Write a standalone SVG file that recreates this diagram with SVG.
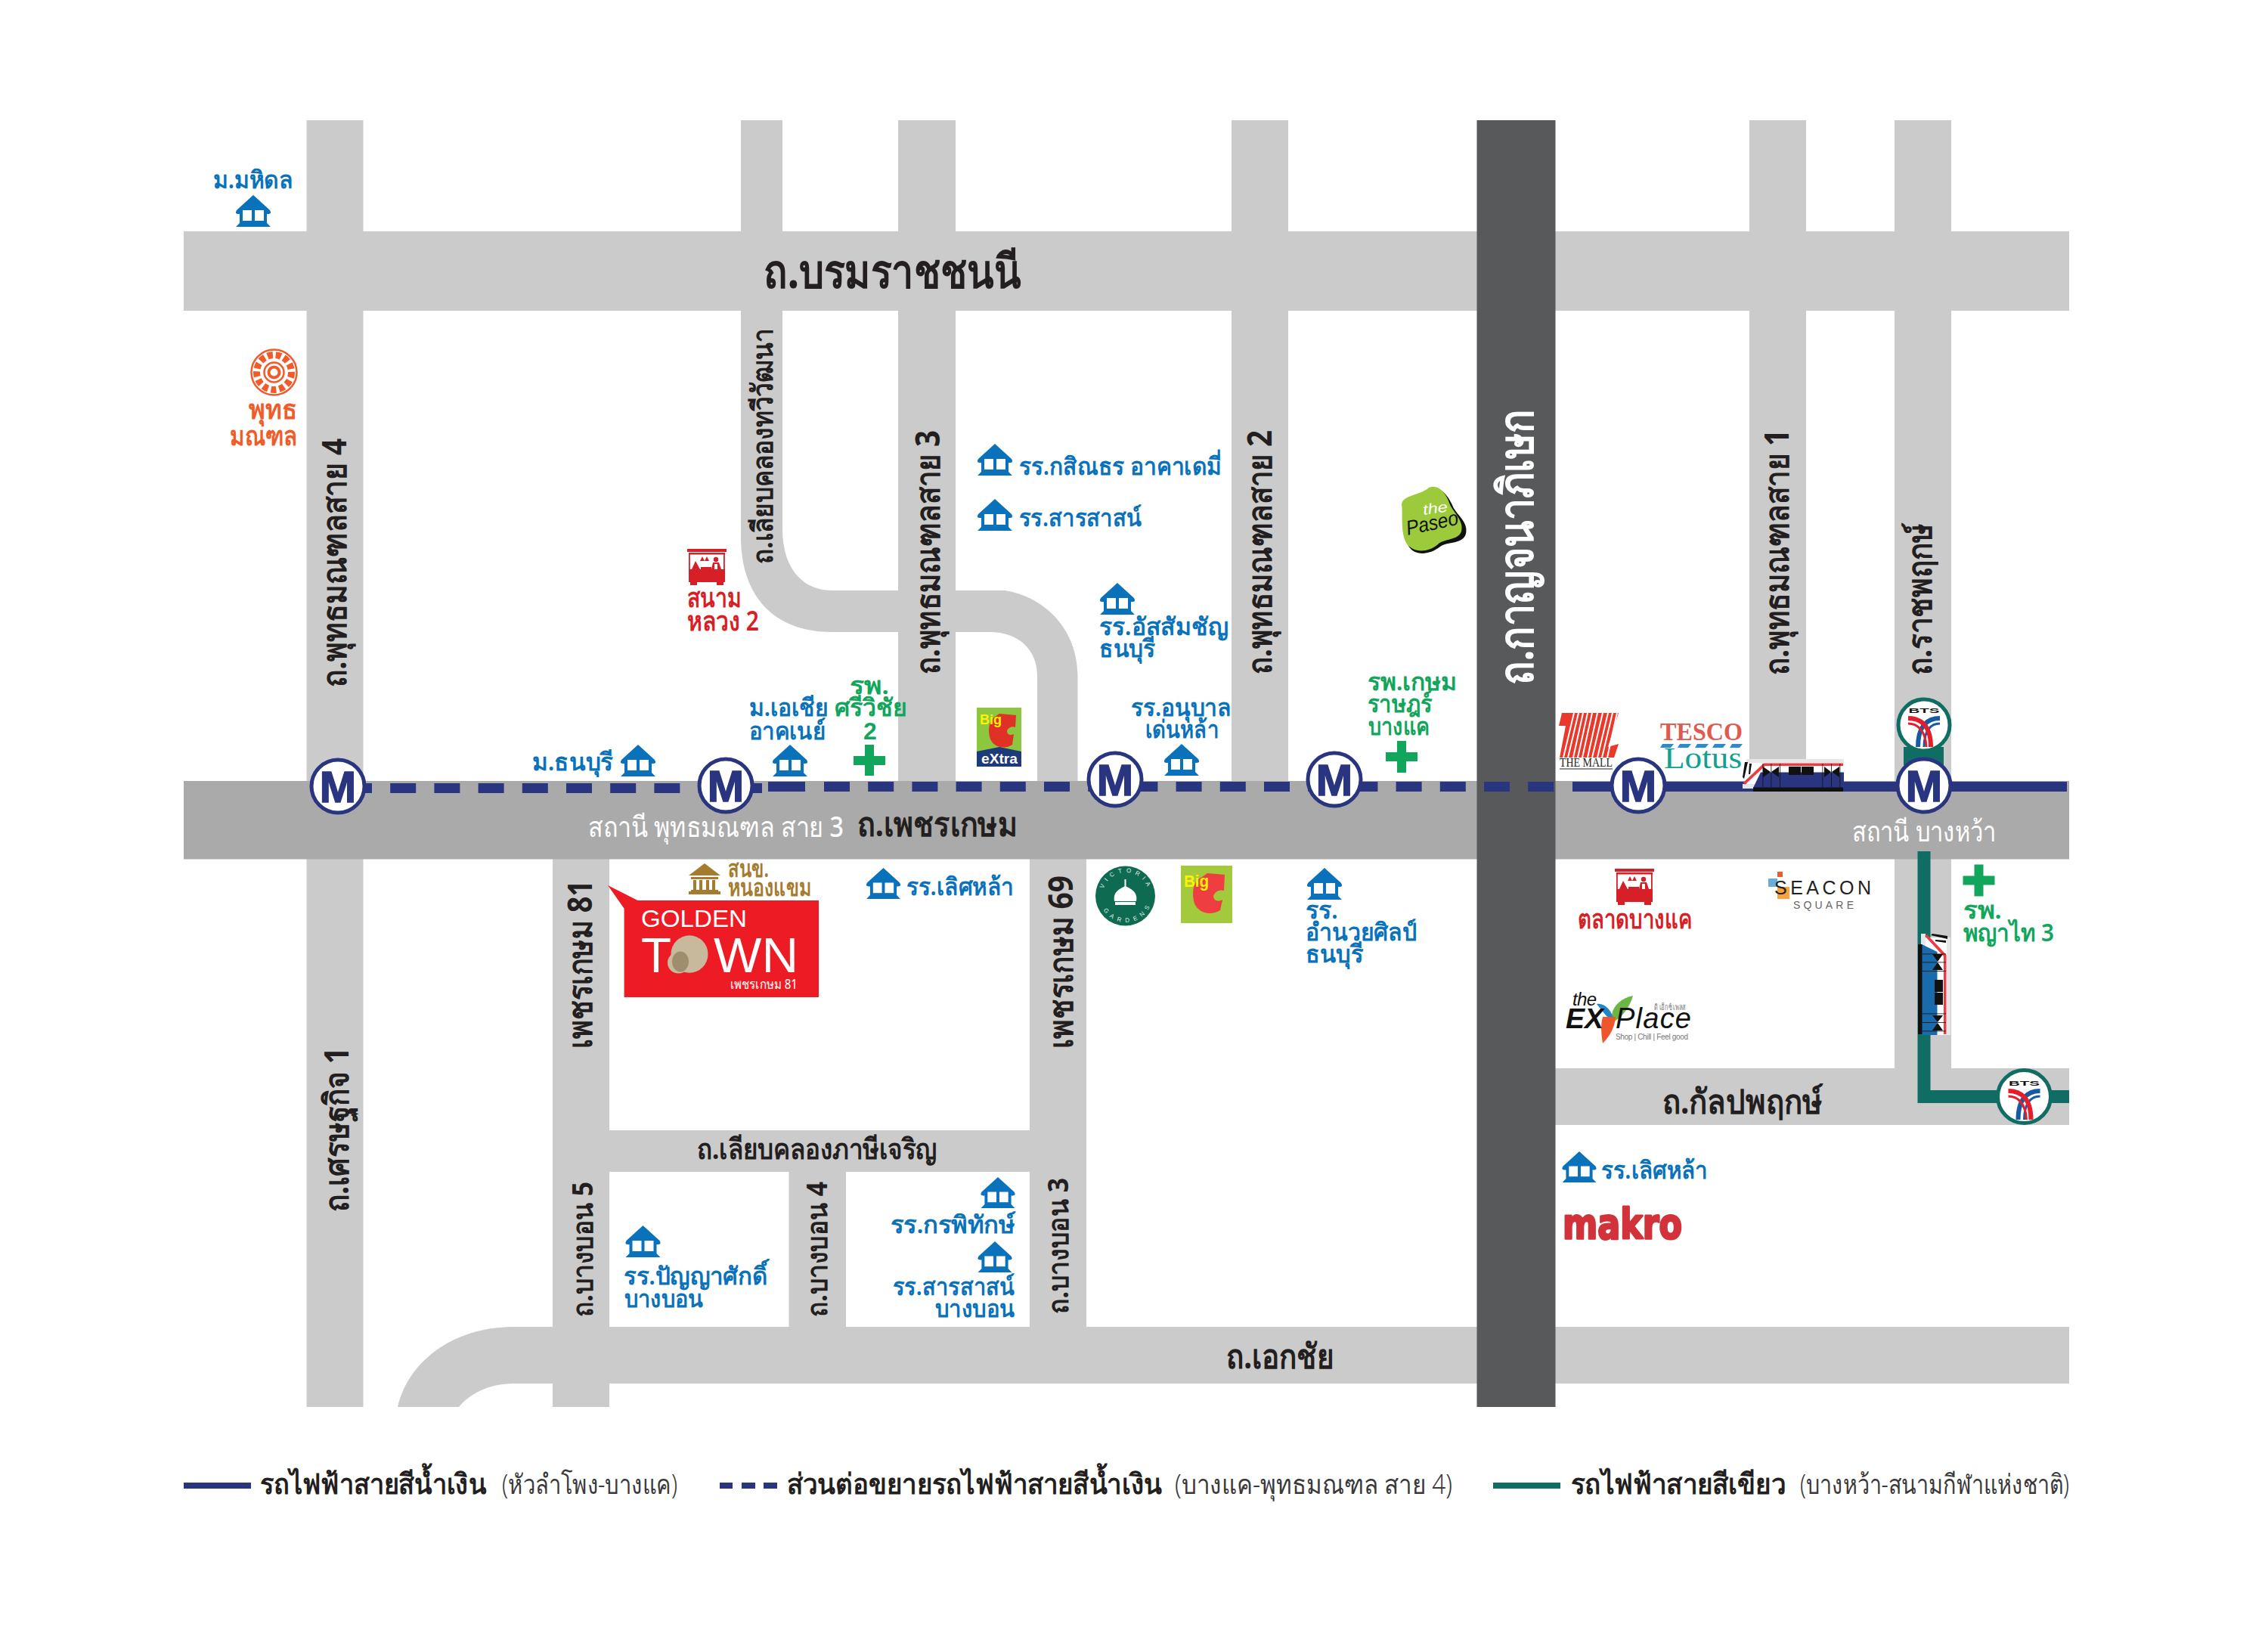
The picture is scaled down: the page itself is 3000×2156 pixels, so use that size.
<svg xmlns="http://www.w3.org/2000/svg" xmlns:xlink="http://www.w3.org/1999/xlink" width="3000" height="2156" viewBox="0 0 3000 2156">
<style>
text{font-family:"Noto Sans","DejaVu Sans","Liberation Sans",sans-serif}
.rd{fill:#cbcbcb}.rm{fill:#aaaaaa}.rk{fill:#58595b}
.bl{fill:#0a72bb}.gr{fill:#12a55c}.kk{fill:#231f20}.wh{fill:#fff}.re{fill:#d71f27}.or{fill:#f15a29}.br{fill:#a57c2f}
.l{font-size:32px;font-weight:600}.rt{font-size:45px;font-weight:700}.rs{font-size:38px;font-weight:700}
.lg{font-size:38px;font-weight:800;fill:#231f20}.lt{font-size:36px;font-weight:300;fill:#3a3a3c}
.m{font-family:"Liberation Sans",sans-serif;font-size:58px;font-weight:700;fill:#2a3580;stroke:#2a3580;stroke-width:1.500;text-anchor:middle}
.st{fill:#fff;stroke:#2a3580;stroke-width:5}.bt{fill:#fff;stroke:#0f6d64;stroke-width:5}
.bts{font-family:"Liberation Sans",sans-serif;font-size:9px;font-weight:700;fill:#111;text-anchor:middle}
.serif{font-family:"Liberation Serif",serif}.sans{font-family:"Liberation Sans",sans-serif}
</style>
<defs>
<symbol id="school" viewBox="0 0 48 42" overflow="visible">
<path fill="#0a72bb" d="M24 0L46 20Q49 25 44 25H42V37L47 42H1L6 37V25H4Q-1 25 2 20Z"/>
<rect x="10" y="20" width="12" height="14" fill="#fff"/><rect x="26" y="20" width="12" height="14" fill="#fff"/>
</symbol>
<symbol id="stall" viewBox="0 0 52 48" overflow="visible">
<g fill="#d71f27">
<rect x="0" y="0" width="52" height="4"/><rect x="2" y="5" width="48" height="2.500"/>
<rect x="2" y="7" width="1.800" height="20"/><rect x="48" y="7" width="1.800" height="20"/>
<rect x="2" y="27" width="48" height="17"/><rect x="4" y="44" width="9" height="4"/><rect x="39" y="44" width="9" height="4"/>
<path d="M6 27L11 16L17 27ZM17 16l3-6 3 6zM23 16l3-6 3 6z"/>
<path d="M18 27h14v-3H18z"/>
<circle cx="38" cy="14" r="3.200"/><path d="M32 27L34 18H42L45 27Z"/>
</g>
<path d="M36 27V20H40V27Z" fill="#fff"/>
</symbol>
<g id="btsmark">
<text class="bts" y="-16" textLength="41" lengthAdjust="spacingAndGlyphs">BTS</text>
<g fill="none" stroke-width="6">
<path stroke="#1659a5" d="M21 -9C5 -9 -8 0 -8 29"/><path stroke="#1659a5" d="M21 -2C10 -2 0 6 0 29" stroke-width="3"/>
<path stroke="#e21f2b" d="M-21 -9C-5 -9 9 0 9 29"/><path stroke="#e21f2b" d="M-21 -2C-10 -2 2 6 3 29" stroke-width="3"/>
</g>
</g>
<g id="train">
<rect x="5" y="0" width="129" height="5" fill="#e6e7e8"/>
<rect x="5" y="5" width="129" height="33" fill="#fff"/>
<rect x="0" y="33" width="24" height="6" fill="#e6e7e8"/>
<path d="M24 17.500H134V38H14Z" fill="currentColor"/>
<rect x="14" y="37.500" width="119" height="5.500" fill="#111"/>
<path d="M28 5.500H133V9H30L3 34L1 31Z" fill="#ee3a43"/>
<path d="M3 4L7 4L2 26L0 24Z" fill="#111"/><path d="M9 6L12 6L10 20L8 20Z" fill="#111"/>
<g fill="#111">
<path d="M27 10L37 17L27 24ZM48 10L38 17L48 24ZM108 10L117 17L108 24ZM128 10L118 17L128 24Z"/>
<rect x="61" y="10" width="16" height="11"/><rect x="78" y="10" width="16" height="11"/>
<rect x="26.500" y="6" width="0.800" height="31"/><rect x="37.500" y="6" width="0.800" height="31"/><rect x="49" y="6" width="0.800" height="31"/><rect x="105.500" y="6" width="0.800" height="31"/><rect x="117" y="6" width="0.800" height="31"/><rect x="128.500" y="6" width="0.800" height="31"/>
</g>
</g>
<path id="vicTop" d="M1458 1185A31 31 0 0 1 1520 1185"/>
<path id="vicBot" d="M1454 1185A35 35 0 0 0 1524 1185"/>
</defs>
<rect width="3000" height="2156" fill="#fff"/>

<g id="roads">
<rect class="rd" x="405.500" y="159" width="75" height="874"/>
<path class="rd" d="M980 159H1035V700C1035 750 1060 781 1101 781H1329C1385 790 1425.500 835 1425.500 894V1033H1372V894C1372 860 1348 836 1309 836H1100C1025 836 980 790 980 710Z"/>
<rect class="rd" x="1188" y="159" width="76" height="874"/>
<rect class="rd" x="1629" y="159" width="75" height="874"/>
<rect class="rd" x="2314" y="159" width="75" height="874"/>
<rect class="rd" x="2506" y="159" width="75" height="1254"/>
<rect class="rd" x="243" y="306" width="2494" height="105"/>
<rect class="rd" x="405.500" y="1136" width="75" height="725"/>
<rect class="rd" x="731" y="1136" width="75" height="725"/>
<rect class="rd" x="1362" y="1136" width="75" height="619"/>
<rect class="rd" x="806" y="1495" width="556" height="55"/>
<rect class="rd" x="1043.500" y="1550" width="75.500" height="205"/>
<path class="rd" d="M2737 1755H680C600 1755 540 1800 526 1861H607C620 1845 645 1830 680 1830H2737Z"/>
<rect class="rd" x="2057" y="1413" width="680" height="75"/>
<rect class="rm" x="243" y="1033" width="2494" height="103.500"/>
<rect class="rk" x="1953.500" y="159" width="104" height="1702"/>
</g>

<g id="connectors" fill="none">
<path stroke="#2a3580" stroke-width="13" stroke-dasharray="34 24.200" d="M458 1042.500H956"/>
<path stroke="#2a3580" stroke-width="13" d="M980 1042.500H1008M1016 1040.500H1065"/>
<path stroke="#2a3580" stroke-width="13" stroke-dasharray="34 24.200" d="M1090 1040.500H2056"/>
<path stroke="#2a3580" stroke-width="13" d="M2080 1040.500H2734"/>
<path stroke="#0f6d64" stroke-width="17" d="M2545 1126V1450.500H2737"/>
<rect x="2518" y="988" width="53" height="24" fill="#0f6d64"/>
<path stroke="#2a3580" stroke-width="8" d="M243 1965H332"/>
<path stroke="#2a3580" stroke-width="8" d="M952 1965H969M981 1965H999M1010 1965H1028"/>
<path stroke="#0f6d64" stroke-width="8" d="M1975 1965H2064"/>
</g>

<g id="road-labels">
<text class="kk" style="font-size:62px;font-weight:800" x="1010" y="381" textLength="340" lengthAdjust="spacingAndGlyphs">ถ.บรมราชชนนี</text>
<text class="kk rt" transform="translate(458,909) rotate(-90)" textLength="329" lengthAdjust="spacingAndGlyphs">ถ.พุทธมณฑลสาย 4</text>
<text class="kk rs" transform="translate(1022,746) rotate(-90)" textLength="311" lengthAdjust="spacingAndGlyphs">ถ.เลียบคลองทวีวัฒนา</text>
<text class="kk rt" transform="translate(1243,892) rotate(-90)" textLength="323" lengthAdjust="spacingAndGlyphs">ถ.พุทธมณฑลสาย 3</text>
<text class="kk rt" transform="translate(1682,892) rotate(-90)" textLength="323" lengthAdjust="spacingAndGlyphs">ถ.พุทธมณฑลสาย 2</text>
<text class="wh" style="font-size:64px;font-weight:700" transform="translate(2028,906) rotate(-90)" textLength="365" lengthAdjust="spacingAndGlyphs">ถ.กาญจนาภิเษก</text>
<text class="kk rt" transform="translate(2366,893) rotate(-90)" textLength="325" lengthAdjust="spacingAndGlyphs">ถ.พุทธมณฑลสาย 1</text>
<text class="kk rt" transform="translate(2555,893) rotate(-90)" textLength="201" lengthAdjust="spacingAndGlyphs">ถ.ราชพฤกษ์</text>
<text class="kk rt" transform="translate(783,1387) rotate(-90)" textLength="223" lengthAdjust="spacingAndGlyphs">เพชรเกษม 81</text>
<text class="kk rt" transform="translate(1419,1387) rotate(-90)" textLength="229" lengthAdjust="spacingAndGlyphs">เพชรเกษม 69</text>
<text class="kk rt" transform="translate(461,1603) rotate(-90)" textLength="218" lengthAdjust="spacingAndGlyphs">ถ.เศรษฐกิจ 1</text>
<text class="kk rs" transform="translate(784,1742) rotate(-90)" textLength="179" lengthAdjust="spacingAndGlyphs">ถ.บางบอน 5</text>
<text class="kk rs" transform="translate(1094,1742) rotate(-90)" textLength="179" lengthAdjust="spacingAndGlyphs">ถ.บางบอน 4</text>
<text class="kk rs" transform="translate(1413,1738) rotate(-90)" textLength="180" lengthAdjust="spacingAndGlyphs">ถ.บางบอน 3</text>
<text class="kk rs" x="922" y="1533" textLength="317" lengthAdjust="spacingAndGlyphs">ถ.เลียบคลองภาษีเจริญ</text>
<text class="kk rt" x="1622" y="1810" textLength="142" lengthAdjust="spacingAndGlyphs">ถ.เอกชัย</text>
<text class="kk rt" x="2199" y="1473" textLength="212" lengthAdjust="spacingAndGlyphs">ถ.กัลปพฤกษ์</text>
<text class="kk rt" x="1134" y="1106" textLength="212" lengthAdjust="spacingAndGlyphs">ถ.เพชรเกษม</text>
<text class="wh" style="font-size:38px;font-weight:500" x="778" y="1107" textLength="338" lengthAdjust="spacingAndGlyphs">สถานี พุทธมณฑล สาย 3</text>
<text class="wh" style="font-size:38px;font-weight:500" x="2450" y="1113" textLength="190" lengthAdjust="spacingAndGlyphs">สถานี บางหว้า</text>
</g>

<g id="station-1"><circle class="st" cx="447" cy="1040" r="35"/><text class="m" x="447" y="1061">M</text></g>
<g id="station-2"><circle class="st" cx="960" cy="1039" r="35"/><text class="m" x="960" y="1060">M</text></g>
<g id="station-3"><circle class="st" cx="1475" cy="1031" r="35"/><text class="m" x="1475" y="1052">M</text></g>
<g id="station-4"><circle class="st" cx="1765" cy="1031" r="35"/><text class="m" x="1765" y="1052">M</text></g>
<g id="station-5"><circle class="st" cx="2167" cy="1039" r="35"/><text class="m" x="2167" y="1060">M</text></g>
<g id="station-6"><circle class="bt" cx="2545" cy="959" r="34"/><use href="#btsmark" x="2545" y="959"/></g>
<g id="station-7"><circle class="st" cx="2545" cy="1039" r="35"/><text class="m" x="2545" y="1060">M</text></g>
<g id="station-8"><circle class="bt" cx="2677.500" cy="1450.500" r="35"/><use href="#btsmark" x="2677.500" y="1452"/></g>
<g id="train-h" style="color:#2a3580"><use href="#train" transform="translate(2305,1004)"/></g>
<g id="train-v" style="color:#1a6bab"><use href="#train" transform="translate(2580,1235) rotate(90)"/></g>

<g id="mahidol"><text class="bl l" x="282" y="249" textLength="106" lengthAdjust="spacingAndGlyphs">ม.มหิดล</text><use href="#school" x="311" y="258" width="48" height="42"/></g>
<g id="buddhamonthon">
<circle cx="362.500" cy="492.500" r="30" fill="#fff" stroke="#f15a29" stroke-width="2.500"/>
<circle cx="362.500" cy="492.500" r="23" fill="none" stroke="#f15a29" stroke-width="9" stroke-dasharray="7 4"/>
<circle cx="362.500" cy="492.500" r="13" fill="none" stroke="#f15a29" stroke-width="2.500"/>
<circle cx="362.500" cy="492.500" r="7" fill="none" stroke="#f15a29" stroke-width="4"/>
<text class="or l" style="font-size:36px" x="329" y="554" textLength="64" lengthAdjust="spacingAndGlyphs">พุทธ</text>
<text class="or l" style="font-size:36px" x="304" y="589" textLength="89" lengthAdjust="spacingAndGlyphs">มณฑล</text></g>
<g id="sanam-luang"><use href="#stall" x="909" y="726" width="52" height="48"/>
<text class="re l" style="font-size:36px" x="909" y="803" textLength="72" lengthAdjust="spacingAndGlyphs">สนาม</text>
<text class="re l" style="font-size:36px" x="909" y="834" textLength="95" lengthAdjust="spacingAndGlyphs">หลวง 2</text></g>
<g id="thonburi"><text class="bl l" x="704" y="1019" textLength="107" lengthAdjust="spacingAndGlyphs">ม.ธนบุรี</text><use href="#school" x="820" y="985" width="48" height="42"/></g>
<g id="asia-u"><text class="bl l" x="991" y="947" textLength="105" lengthAdjust="spacingAndGlyphs">ม.เอเชีย</text><text class="bl l" x="991" y="978" textLength="101" lengthAdjust="spacingAndGlyphs">อาคเนย์</text><use href="#school" x="1021" y="985" width="48" height="42"/></g>
<g id="sriwichai"><text class="gr l" x="1124" y="918" textLength="52" lengthAdjust="spacingAndGlyphs">รพ.</text><text class="gr l" x="1104" y="947" textLength="96" lengthAdjust="spacingAndGlyphs">ศรีวิชัย</text><text class="gr l sans" x="1142" y="978">2</text>
<path class="gr" d="M1144 985h12v15h15v12h-15v14h-12v-14h-15v-12h15z"/></g>
<g id="kasin"><use href="#school" x="1292" y="587" width="48" height="42"/><text class="bl l" x="1348" y="628" textLength="268" lengthAdjust="spacingAndGlyphs">รร.กสิณธร อาคาเดมี่</text></g>
<g id="sarasas"><use href="#school" x="1292" y="660" width="48" height="42"/><text class="bl l" x="1348" y="696" textLength="162" lengthAdjust="spacingAndGlyphs">รร.สารสาสน์</text></g>
<g id="assumption"><use href="#school" x="1454" y="771" width="48" height="42"/><text class="bl l" x="1454" y="840" textLength="171" lengthAdjust="spacingAndGlyphs">รร.อัสสัมชัญ</text><text class="bl l" x="1454" y="869" textLength="74" lengthAdjust="spacingAndGlyphs">ธนบุรี</text></g>
<g id="anuban"><text class="bl l" x="1496" y="947" textLength="133" lengthAdjust="spacingAndGlyphs">รร.อนุบาล</text><text class="bl l" x="1515" y="976" textLength="97" lengthAdjust="spacingAndGlyphs">เด่นหล้า</text><use href="#school" x="1539" y="984" width="48" height="42"/></g>
<g id="kasemrad"><text class="gr l" x="1809" y="913" textLength="118" lengthAdjust="spacingAndGlyphs">รพ.เกษม</text><text class="gr l" x="1809" y="942" textLength="85" lengthAdjust="spacingAndGlyphs">ราษฎร์</text><text class="gr l" x="1810" y="972" textLength="81" lengthAdjust="spacingAndGlyphs">บางแค</text>
<path class="gr" d="M1848 980h12v15h15v12h-15v15h-12v-15h-15v-12h15z"/></g>
<g id="bigc-extra"><rect x="1292" y="936" width="59" height="78" fill="#8dc63f"/><path d="M1292 994L1322 988L1351 994V1014H1292Z" fill="#1f3a78"/>
<path d="M1322 944L1344 946L1343 962C1338 960 1333 963 1332 967C1332 972 1337 973 1341 971L1339 985C1328 992 1315 988 1310 978C1306 966 1308 953 1316 948Z" fill="#e03127"/>
<text class="sans" x="1296" y="958" style="font-size:18px;font-weight:700;fill:#fff200" textLength="29" lengthAdjust="spacingAndGlyphs">Big</text>
<text class="sans" x="1298" y="1010" style="font-size:19px;font-weight:700;fill:#fff" textLength="48" lengthAdjust="spacingAndGlyphs">eXtra</text></g>
<g id="paseo"><path d="M1892 648C1905 642 1915 655 1921 668C1925 680 1943 690 1939 706C1935 720 1915 716 1905 723C1890 735 1870 735 1863 722C1855 705 1858 680 1856 667C1858 655 1880 658 1892 648Z" fill="#111"/>
<path d="M1890 645C1903 640 1912 652 1917 665C1921 677 1937 688 1933 703C1929 715 1910 712 1902 720C1888 732 1868 731 1860 718C1852 702 1856 680 1854 667C1856 654 1878 656 1890 645Z" fill="#9cca3c"/>
<text class="sans" x="1883" y="681" style="font-size:19px;font-style:italic;fill:#fff" textLength="33" lengthAdjust="spacingAndGlyphs" transform="rotate(-8 1883 681)">the</text>
<text class="sans" x="1862" y="708" style="font-size:27px;font-style:italic;fill:#111" textLength="70" lengthAdjust="spacingAndGlyphs" transform="rotate(-12 1862 708)">Paseo</text></g>
<g id="mall"><path d="M2066 943H2141L2127 988L2141 984L2135 1002H2063L2071 960H2062Z" fill="#e8392b"/>
<path d="M2068 1002L2082 943M2074 1002L2088 943M2081 1002L2094 943M2087 1002L2100 943M2093 1002L2106 943M2100 1002L2113 943M2106 1002L2120 943M2113 1002L2127 943M2119 1002L2133 943M2126 1002L2139 943" stroke="#fff" stroke-width="2" fill="none"/>
<text class="serif" x="2063" y="1014" style="font-size:17px;fill:#222" textLength="70" lengthAdjust="spacingAndGlyphs">THE MALL</text><path d="M2063 1017H2133" stroke="#222" stroke-width="1"/></g>
<g id="tesco"><text class="serif" x="2196" y="979" style="font-size:33px;font-weight:700;fill:#e05a4f" textLength="109" lengthAdjust="spacingAndGlyphs">TESCO</text>
<path d="M2199 984H2214L2210 989H2196ZM2222 984H2237L2233 989H2219ZM2245 984H2260L2256 989H2242ZM2268 984H2283L2279 989H2265ZM2291 984H2305L2301 989H2288Z" fill="#2a8ccc"/>
<text class="serif" x="2201" y="1016" style="font-size:40px;fill:#12a08f" textLength="103" lengthAdjust="spacingAndGlyphs">Lotus</text></g>
<g id="victoria"><circle cx="1488.500" cy="1185" r="39.500" fill="#0e6b51"/>
<path d="M1474 1192C1472 1180 1480 1176 1488.500 1172C1497 1176 1505 1180 1503 1192Z" fill="#fff"/><rect x="1475" y="1193" width="27" height="4" fill="#fff"/><rect x="1487.500" y="1163" width="2" height="10" fill="#fff"/>
<text class="sans" style="font-size:8px;fill:#dfeee9"><textPath href="#vicTop" startOffset="10%" textLength="75">V I C T O R I A</textPath></text>
<text class="sans" style="font-size:8px;fill:#dfeee9"><textPath href="#vicBot" startOffset="18%" textLength="75">G A R D E N S</textPath></text></g>
<g id="bigc"><rect x="1562" y="1145" width="68" height="76" fill="#a3c93c"/>
<path d="M1597 1155L1620 1157L1619 1178C1612 1176 1606 1180 1605 1186C1606 1192 1612 1193 1617 1190L1614 1204C1600 1212 1585 1207 1580 1195C1576 1180 1578 1165 1590 1160Z" fill="#ee3e42"/>
<text class="sans" x="1566" y="1173" style="font-size:22px;font-weight:700;fill:#fff200" textLength="33" lengthAdjust="spacingAndGlyphs">Big</text></g>
<g id="amnuay"><use href="#school" x="1728" y="1148" width="48" height="42"/><text class="bl l" x="1727" y="1215" textLength="43" lengthAdjust="spacingAndGlyphs">รร.</text><text class="bl l" x="1727" y="1244" textLength="147" lengthAdjust="spacingAndGlyphs">อำนวยศิลป์</text><text class="bl l" x="1727" y="1273" textLength="76" lengthAdjust="spacingAndGlyphs">ธนบุรี</text></g>
<g id="talad"><use href="#stall" x="2136" y="1149" width="52" height="48"/><text class="re l" style="font-size:35px" x="2087" y="1228" textLength="151" lengthAdjust="spacingAndGlyphs">ตลาดบางแค</text></g>
<g id="seacon"><rect x="2339" y="1162" width="12" height="11" fill="#6aaed6"/><rect x="2351" y="1153" width="7" height="7" fill="#f15a29"/><rect x="2351" y="1173" width="16" height="16" fill="#f9a13a"/>
<text class="sans" x="2347" y="1183" style="font-size:25px;fill:#222" textLength="128" lengthAdjust="spacing">SEACON</text>
<text class="sans" x="2372" y="1202" style="font-size:14px;fill:#666" textLength="80" lengthAdjust="spacing">SQUARE</text></g>
<g id="phyathai"><path class="gr" d="M2611.500 1143.500h12v15h15v12h-15v15h-12v-15h-15v-12h15z"/><text class="gr l" x="2597" y="1215" textLength="51" lengthAdjust="spacingAndGlyphs">รพ.</text><text class="gr l" x="2597" y="1245" textLength="120" lengthAdjust="spacingAndGlyphs">พญาไท 3</text></g>
<g id="explace">
<path d="M2132 1342C2134 1330 2145 1320 2160 1317C2156 1332 2146 1345 2134 1352Z" fill="#6cb644"/>
<path d="M2112 1328C2122 1326 2132 1336 2135 1350L2125 1344Z" fill="#1f87c7"/>
<path d="M2120 1345L2137 1345C2136 1360 2128 1372 2120 1380C2118 1368 2117 1355 2120 1345Z" fill="#f0562b"/>
<text class="sans" x="2080" y="1330" style="font-size:24px;font-style:italic;fill:#111" textLength="32" lengthAdjust="spacing">the</text>
<text class="sans" x="2071" y="1360" style="font-size:36px;font-style:italic;font-weight:700;fill:#111" textLength="50" lengthAdjust="spacingAndGlyphs">EX</text>
<text class="sans" x="2137" y="1360" style="font-size:38px;font-style:italic;fill:#111" textLength="100" lengthAdjust="spacing">Place</text>
<text x="2188" y="1336" style="font-size:11px;fill:#777" textLength="42" lengthAdjust="spacingAndGlyphs">ดิ เอ็กซ์ เพลส</text>
<text class="sans" x="2137" y="1375" style="font-size:10px;fill:#777" textLength="96" lengthAdjust="spacing">Shop | Chill | Feel good</text></g>
<g id="lertlah-2"><use href="#school" x="2065" y="1523" width="48" height="41"/><text class="bl l" x="2118" y="1559" textLength="141" lengthAdjust="spacingAndGlyphs">รร.เลิศหล้า</text></g>
<g id="makro"><text x="2067" y="1638" style="font-family:'DejaVu Sans',sans-serif;font-size:56px;font-weight:700;fill:#d2333a;stroke:#d2333a;stroke-width:3;stroke-linejoin:round" textLength="158" lengthAdjust="spacingAndGlyphs">makro</text></g>
<g id="onep"><g class="br"><path d="M932 1142L953 1158H911Z"/><rect x="914" y="1160" width="36" height="3"/><rect x="917" y="1164" width="4" height="13"/><rect x="925" y="1164" width="4" height="13"/><rect x="934" y="1164" width="4" height="13"/><rect x="942" y="1164" width="4" height="13"/><rect x="914" y="1177" width="36" height="2"/><rect x="911" y="1179" width="42" height="4"/></g>
<text class="br l" x="963" y="1160" textLength="54" lengthAdjust="spacingAndGlyphs">สนข.</text><text class="br l" x="963" y="1185" textLength="110" lengthAdjust="spacingAndGlyphs">หนองแขม</text></g>
<g id="lertlah-1"><use href="#school" x="1144.500" y="1148" width="48" height="41"/><text class="bl l" x="1199" y="1184" textLength="142" lengthAdjust="spacingAndGlyphs">รร.เลิศหล้า</text></g>
<g id="golden-town"><path d="M804 1171L843.500 1191H1083V1319H825.600V1201.700Z" fill="#ed1c24"/>
<text class="sans wh" x="848" y="1226" style="font-size:32px" textLength="140" lengthAdjust="spacingAndGlyphs">GOLDEN</text>
<ellipse cx="912" cy="1262" rx="24.500" ry="24.700" fill="#c8b99c"/><ellipse cx="897.500" cy="1273.500" rx="14.500" ry="14" fill="#c8b99c"/><ellipse cx="900" cy="1272" rx="11" ry="13.500" fill="#9f8e6e"/>
<text class="sans wh" x="848" y="1286" style="font-size:65px" textLength="40" lengthAdjust="spacingAndGlyphs">T</text>
<text class="sans wh" x="944" y="1286" style="font-size:65px" textLength="112" lengthAdjust="spacingAndGlyphs">WN</text>
<text class="wh" x="966" y="1308" style="font-size:18px" textLength="89" lengthAdjust="spacingAndGlyphs">เพชรเกษม 81</text></g>
<g id="panya"><use href="#school" x="826.500" y="1621" width="48" height="42"/><text class="bl l" x="825" y="1699" textLength="190" lengthAdjust="spacingAndGlyphs">รร.ปัญญาศักดิ์</text><text class="bl l" x="826" y="1729" textLength="104" lengthAdjust="spacingAndGlyphs">บางบอน</text></g>
<g id="kornpitak"><use href="#school" x="1296" y="1557" width="48" height="41"/><text class="bl l" x="1177.500" y="1631" textLength="165" lengthAdjust="spacingAndGlyphs">รร.กรพิทักษ์</text></g>
<g id="sarasas-bb"><use href="#school" x="1292" y="1642" width="48" height="41"/><text class="bl l" x="1181" y="1713" textLength="161" lengthAdjust="spacingAndGlyphs">รร.สารสาสน์</text><text class="bl l" x="1237" y="1742" textLength="105" lengthAdjust="spacingAndGlyphs">บางบอน</text></g>

<g id="legend">
<text class="lg" x="344" y="1976" textLength="299" lengthAdjust="spacingAndGlyphs">รถไฟฟ้าสายสีน้ำเงิน</text>
<text class="lt" x="664" y="1976" textLength="232" lengthAdjust="spacingAndGlyphs">(หัวลำโพง-บางแค)</text>
<text class="lg" x="1041" y="1976" textLength="496" lengthAdjust="spacingAndGlyphs">ส่วนต่อขยายรถไฟฟ้าสายสีน้ำเงิน</text>
<text class="lt" x="1554" y="1976" textLength="367" lengthAdjust="spacingAndGlyphs">(บางแค-พุทธมณฑล สาย 4)</text>
<text class="lg" x="2078" y="1976" textLength="284" lengthAdjust="spacingAndGlyphs">รถไฟฟ้าสายสีเขียว</text>
<text class="lt" x="2381" y="1976" textLength="356" lengthAdjust="spacingAndGlyphs">(บางหว้า-สนามกีฬาแห่งชาติ)</text>
</g>
</svg>
